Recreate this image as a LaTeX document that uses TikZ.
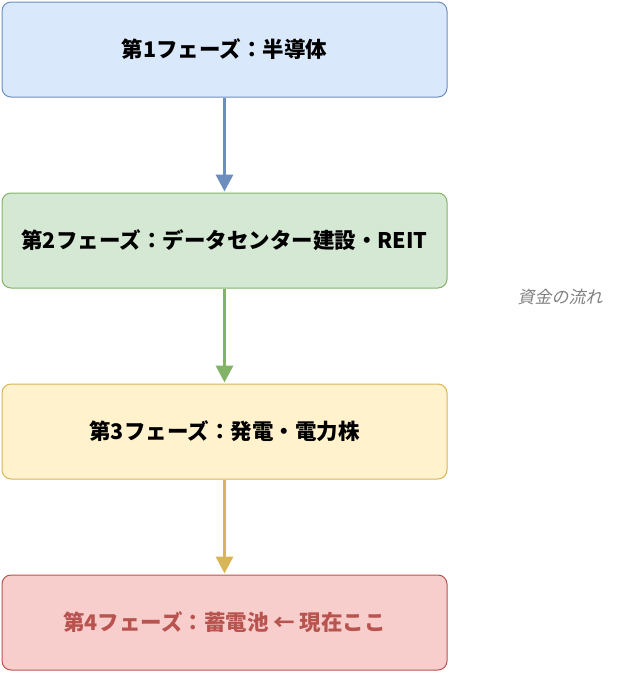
\documentclass[tikz,border=0pt]{standalone}
\usepackage{fontspec}
\newfontfamily\cjk{Noto Sans CJK JP}
\newfontfamily\cjkslant[FakeSlant=0.2]{Noto Sans CJK JP}
\usetikzlibrary{positioning,arrows.meta}
\definecolor{bluefill}{HTML}{DAE8FC}\definecolor{bluedraw}{HTML}{6C8EBF}
\definecolor{greenfill}{HTML}{D5E8D4}\definecolor{greendraw}{HTML}{82B366}
\definecolor{yellowfill}{HTML}{FFF2CC}\definecolor{yellowdraw}{HTML}{D6B656}
\definecolor{redfill}{HTML}{F8CECC}\definecolor{reddraw}{HTML}{B85450}
\tikzset{
  phase/.style={draw=#1draw, fill=#1fill, rounded corners=9pt, line width=1pt,
    minimum width=445pt, minimum height=95pt, inner sep=0pt,
    font=\cjk\bfseries\fontsize{21.5}{24}\selectfont},
  flow/.style={draw=#1draw, line width=3.5pt, -{Triangle[length=17pt,width=17pt]}, shorten >=1pt}
}
\begin{document}
\begin{tikzpicture}[x=1pt, y=-1pt]
\useasboundingbox (0,0) rectangle (640,673);
\node[phase=blue] (p1) at (224.5,49.5) {第1フェーズ：半導体};
\node[phase=green] (p2) at (224.5,240.5) {第2フェーズ：データセンター建設・REIT};
\node[phase=yellow] (p3) at (224.5,431.5) {第3フェーズ：発電・電力株};
\node[phase=red, text=reddraw] (p4) at (224.5,622.5) {第4フェーズ：蓄電池 ← 現在ここ};

\draw[flow=blue] (p1) -- (p2);
\draw[flow=green] (p2) -- (p3);
\draw[flow=yellow] (p3) -- (p4);

\node[font=\cjkslant\fontsize{17}{20}\selectfont, text=gray] (money) at (560,297) {資金の流れ};
\end{tikzpicture}
\end{document}
